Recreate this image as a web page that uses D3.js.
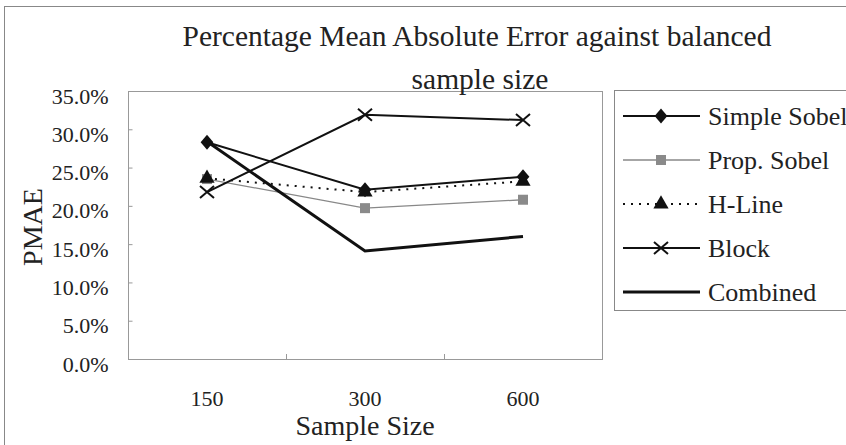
<!DOCTYPE html>
<html>
<head>
<meta charset="utf-8">
<script src="https://cdn.jsdelivr.net/npm/d3@7"></script>
<style>
  body { margin: 0; background: #fff; }
  svg text { font-family: "Liberation Serif", "Times New Roman", Times, "DejaVu Serif", serif; fill: #222; }
</style>
</head>
<body>
<div id="chart"></div>
<script>
  // Data
  var sampleSizes = ["150", "300", "600"];
  var seriesNames = ["Simple Sobel", "Prop. Sobel", "H-Line", "Block", "Combined"];
  var simpleSobel = [28.3, 22.1, 23.8];
  var propSobel = [23.5, 19.7, 20.8];
  var hLine = [23.6, 21.8, 23.2];
  var block = [21.8, 31.9, 31.2];
  var combined = [28.4, 14.1, 16.0];
  var yTicks = [0, 5, 10, 15, 20, 25, 30, 35];

  var width = 846, height = 445;
  var plot = {left: 128, top: 91, right: 602, bottom: 359};
  var serif = "'Liberation Serif', 'Times New Roman', Times, 'DejaVu Serif', serif";

  var svg = d3.select("#chart").append("svg")
    .attr("width", width)
    .attr("height", height)
    .style("font-family", serif);

  // Outer chart frame
  svg.append("rect")
    .attr("x", 4.5).attr("y", 6.5)
    .attr("width", 900).attr("height", 500)
    .attr("fill", "#fff")
    .attr("stroke", "#888");

  var x = d3.scaleBand().domain(sampleSizes).range([plot.left, plot.right]);
  var y = d3.scaleLinear().domain([0, 35]).range([plot.bottom, plot.top]);

  // Plot area
  svg.append("rect")
    .attr("x", plot.left + 0.5).attr("y", plot.top + 0.5)
    .attr("width", plot.right - plot.left).attr("height", plot.bottom - plot.top)
    .attr("fill", "#fff")
    .attr("stroke", "#999");

  // Y axis
  var yAxis = svg.append("g")
    .attr("transform", "translate(" + (plot.left + 0.5) + ",0)")
    .call(d3.axisLeft(y).tickValues(yTicks).tickSize(4).tickPadding(16)
      .tickFormat(function(d) { return d.toFixed(1) + "%"; }));
  yAxis.attr("font-family", null).attr("font-size", 22);
  yAxis.select(".domain").remove();
  yAxis.selectAll("line").attr("stroke", "#999").attr("x2", 4);
  yAxis.selectAll("text")
    .attr("dy", "0.55em")
    .attr("fill", "#222");

  // X axis: ticks sit between categories
  var xAxis = svg.append("g")
    .attr("transform", "translate(0," + (plot.bottom + 0.5) + ")")
    .call(d3.axisBottom(x).tickSize(0).tickPadding(31));
  xAxis.attr("font-family", null).attr("font-size", 22);
  xAxis.select(".domain").remove();
  xAxis.selectAll("text").attr("fill", "#222");
  svg.selectAll(".xsep")
    .data(sampleSizes.slice(1))
    .enter().append("line")
    .attr("x1", function(d) { return x(d) + 0.5; })
    .attr("x2", function(d) { return x(d) + 0.5; })
    .attr("y1", plot.bottom - 5)
    .attr("y2", plot.bottom)
    .attr("stroke", "#999");

  // Axis titles
  svg.append("text")
    .attr("x", 365).attr("y", 435)
    .attr("text-anchor", "middle")
    .attr("font-size", 28)
    .text("Sample Size");

  svg.append("text")
    .attr("transform", "translate(42,227) rotate(-90)")
    .attr("text-anchor", "middle")
    .attr("font-size", 28)
    .text("PMAE");

  // Title
  svg.append("text")
    .attr("x", 477).attr("y", 46)
    .attr("text-anchor", "middle")
    .attr("font-size", 29.5)
    .text("Percentage Mean Absolute Error against balanced");
  svg.append("text")
    .attr("x", 480).attr("y", 89)
    .attr("text-anchor", "middle")
    .attr("font-size", 29.5)
    .text("sample size");

  // Series styles
  var series = [
    {name: seriesNames[0], values: simpleSobel, color: "#111", width: 2, dash: null, marker: "diamond", mcolor: "#111"},
    {name: seriesNames[1], values: propSobel, color: "#888", width: 1.3, dash: null, marker: "square", mcolor: "#8a8a8a"},
    {name: seriesNames[2], values: hLine, color: "#111", width: 2, dash: "2,6", marker: "triangle", mcolor: "#111"},
    {name: seriesNames[3], values: block, color: "#111", width: 2, dash: null, marker: "cross", mcolor: "#111"},
    {name: seriesNames[4], values: combined, color: "#111", width: 3, dash: null, marker: null, mcolor: "#111"}
  ];

  var cx = function(i) { return x(sampleSizes[i]) + x.bandwidth() / 2; };
  var line = d3.line()
    .x(function(d, i) { return cx(i); })
    .y(function(d) { return y(d); });

  function drawMarker(g, kind, px, py, color) {
    if (kind === "diamond") {
      g.append("path").attr("d", d3.symbol(d3.symbolDiamond, 90)())
        .attr("transform", "translate(" + px + "," + py + ") scale(1.25,0.85)").attr("fill", color);
    } else if (kind === "square") {
      g.append("rect").attr("x", px - 5).attr("y", py - 5).attr("width", 10).attr("height", 10)
        .attr("fill", color);
    } else if (kind === "triangle") {
      g.append("path").attr("d", d3.symbol(d3.symbolTriangle, 100)())
        .attr("transform", "translate(" + px + "," + py + ")").attr("fill", color);
    } else if (kind === "cross") {
      g.append("path").attr("d", "M-7,-6L7,6M-7,6L7,-6")
        .attr("transform", "translate(" + px + "," + py + ")")
        .attr("stroke", color).attr("stroke-width", 2).attr("fill", "none");
    }
  }

  var marks = svg.append("g");
  series.forEach(function(s) {
    marks.append("path")
      .datum(s.values)
      .attr("d", line)
      .attr("fill", "none")
      .attr("stroke", s.color)
      .attr("stroke-width", s.width)
      .attr("stroke-dasharray", s.dash);
  });
  series.forEach(function(s) {
    if (!s.marker) return;
    s.values.forEach(function(v, i) { drawMarker(marks, s.marker, cx(i), y(v), s.mcolor); });
  });

  // Legend (box runs past the right edge like the reference)
  var legend = svg.append("g");
  legend.append("rect")
    .attr("x", 614.5).attr("y", 90.5)
    .attr("width", 300).attr("height", 220)
    .attr("fill", "#fff")
    .attr("stroke", "#888");

  series.forEach(function(s, i) {
    var ly = 116 + i * 44;
    legend.append("line")
      .attr("x1", 623).attr("x2", 700)
      .attr("y1", ly).attr("y2", ly)
      .attr("stroke", s.color)
      .attr("stroke-width", s.width)
      .attr("stroke-dasharray", s.dash);
    if (s.marker) drawMarker(legend, s.marker, 661, ly, s.mcolor);
    legend.append("text")
      .attr("x", 708).attr("y", ly)
      .attr("dy", "0.35em")
      .attr("font-size", 26)
      .text(s.name);
  });
</script>
</body>
</html>
